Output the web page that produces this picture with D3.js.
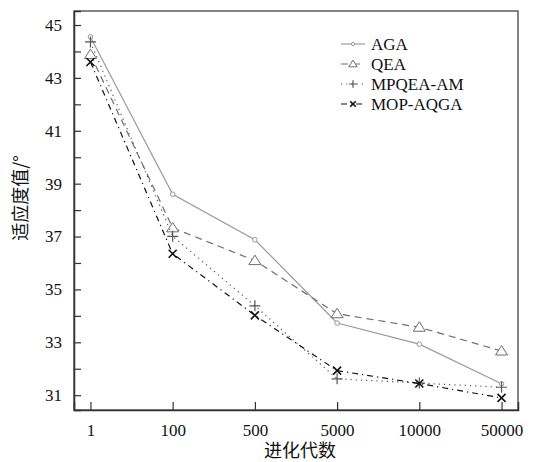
<!DOCTYPE html>
<html>
<head>
<meta charset="utf-8">
<script src="https://cdn.jsdelivr.net/npm/d3@7"></script>
<style>
body { margin: 0; background: #fff; }
text { font-family: "Liberation Serif", "Times New Roman", serif; }
</style>
</head>
<body>
<script>
// data
var generations = ["1", "100", "500", "5000", "10000", "50000"];
var agaValues = [44.55, 38.6, 36.88, 33.73, 32.93, 31.43];
var qeaValues = [43.88, 37.33, 36.09, 34.08, 33.57, 32.67];
var mpqeaValues = [44.36, 37.01, 34.38, 31.62, 31.46, 31.3];
var mopValues = [43.6, 36.35, 34.02, 31.93, 31.44, 30.9];
var yTicks = [31, 32, 33, 34, 35, 36, 37, 38, 39, 40, 41, 42, 43, 44, 45];

var width = 537, height = 462;
var margin = {top: 11, right: 19, bottom: 52, left: 74};

var svg = d3.select("body").append("svg")
    .attr("width", width)
    .attr("height", height);

var x = d3.scalePoint()
    .domain(generations)
    .range([margin.left, width - margin.right])
    .padding(0.2);

var y = d3.scaleLinear()
    .domain([30.44, 45.53])
    .range([height - margin.bottom, margin.top]);

// frame
svg.append("rect")
    .attr("x", margin.left)
    .attr("y", margin.top)
    .attr("width", width - margin.right - margin.left)
    .attr("height", height - margin.bottom - margin.top)
    .attr("fill", "none")
    .attr("stroke", "#333")
    .attr("stroke-width", 1.2);

// y axis, ticks pointing inward
var yAxis = svg.append("g")
    .attr("transform", "translate(" + margin.left + ",0)")
    .call(d3.axisRight(y).tickValues(yTicks).tickSize(7)
        .tickFormat(function(d) { return d % 2 === 1 ? d : ""; }));
yAxis.select(".domain").attr("stroke", "#333").attr("stroke-width", 1.5);
yAxis.selectAll(".tick line").attr("stroke", "#333").attr("stroke-width", 1.2);
yAxis.selectAll(".tick text")
    .attr("x", -12)
    .attr("text-anchor", "end")
    .attr("font-size", 17)
    .attr("fill", "#111")
    .style("font-family", "'Liberation Serif', serif");

// x axis, ticks pointing inward
var xAxis = svg.append("g")
    .attr("transform", "translate(0," + (height - margin.bottom) + ")")
    .call(d3.axisTop(x).tickSize(8));
xAxis.select(".domain").attr("stroke", "#333").attr("stroke-width", 1.5);
xAxis.selectAll(".tick line").attr("stroke", "#333").attr("stroke-width", 1.2);
xAxis.selectAll(".tick text")
    .attr("y", 26)
    .attr("font-size", 17)
    .attr("fill", "#111")
    .style("font-family", "'Liberation Serif', serif");

// axis titles
svg.append("text")
    .attr("x", 300)
    .attr("y", 457)
    .attr("text-anchor", "middle")
    .attr("font-size", 18)
    .attr("fill", "#111")
    .style("font-family", "'Noto Sans CJK SC', serif")
    .text("进化代数");

svg.append("text")
    .attr("transform", "translate(27,198) rotate(-90)")
    .attr("text-anchor", "middle")
    .attr("font-size", 18)
    .attr("fill", "#111")
    .style("font-family", "'Noto Sans CJK SC', serif")
    .text("适应度值/°");

var series = [
    {name: "AGA", values: agaValues, color: "#9a9a9a", dash: null, marker: "circle"},
    {name: "QEA", values: qeaValues, color: "#6e6e6e", dash: "7,5", marker: "triangle"},
    {name: "MPQEA-AM", values: mpqeaValues, color: "#555", dash: "1.2,4", marker: "plus"},
    {name: "MOP-AQGA", values: mopValues, color: "#111", dash: "6,4,1.2,4", marker: "cross"}
];

var line = d3.line()
    .x(function(d, i) { return x(generations[i]); })
    .y(function(d) { return y(d); });

function drawMarker(g, type, cx, cy, color, k) {
    k = k || 1;
    if (type === "circle") {
        g.append("circle").attr("cx", cx).attr("cy", cy).attr("r", 2.3 * k)
            .attr("fill", "#fff").attr("stroke", color).attr("stroke-width", 1);
    } else if (type === "triangle") {
        g.append("path")
            .attr("d", "M" + cx + "," + (cy - 5.5 * k) + "L" + (cx + 6 * k) + "," + (cy + 4 * k) + "L" + (cx - 6 * k) + "," + (cy + 4 * k) + "Z")
            .attr("fill", "#fff").attr("stroke", color).attr("stroke-width", 1);
    } else if (type === "plus") {
        g.append("path")
            .attr("d", "M" + (cx - 5.5 * k) + "," + cy + "H" + (cx + 5.5 * k) + "M" + cx + "," + (cy - 5.5 * k) + "V" + (cy + 5.5 * k))
            .attr("stroke", color).attr("stroke-width", 1.2);
    } else {
        g.append("path")
            .attr("d", "M" + (cx - 4 * k) + "," + (cy - 4 * k) + "L" + (cx + 4 * k) + "," + (cy + 4 * k) + "M" + (cx + 4 * k) + "," + (cy - 4 * k) + "L" + (cx - 4 * k) + "," + (cy + 4 * k))
            .attr("stroke", color).attr("stroke-width", 1.6);
    }
}

series.forEach(function(s) {
    svg.append("path")
        .datum(s.values)
        .attr("d", line)
        .attr("fill", "none")
        .attr("stroke", s.color)
        .attr("stroke-width", 1.2)
        .attr("stroke-dasharray", s.dash);
    var g = svg.append("g");
    s.values.forEach(function(v, i) {
        drawMarker(g, s.marker, x(generations[i]), y(v), s.color);
    });
});

// legend
var legend = svg.append("g").attr("transform", "translate(341,44)");
series.forEach(function(s, i) {
    var row = legend.append("g").attr("transform", "translate(0," + (i * 20) + ")");
    row.append("line")
        .attr("x1", 0).attr("x2", 24).attr("y1", 0).attr("y2", 0)
        .attr("stroke", s.color)
        .attr("stroke-width", 1.2)
        .attr("stroke-dasharray", s.dash);
    drawMarker(row, s.marker, 12, 0, s.color, 0.7);
    row.append("text")
        .attr("x", 30)
        .attr("y", 6)
        .attr("font-size", 17)
        .attr("fill", "#111")
        .text(s.name);
});
</script>
</body>
</html>
